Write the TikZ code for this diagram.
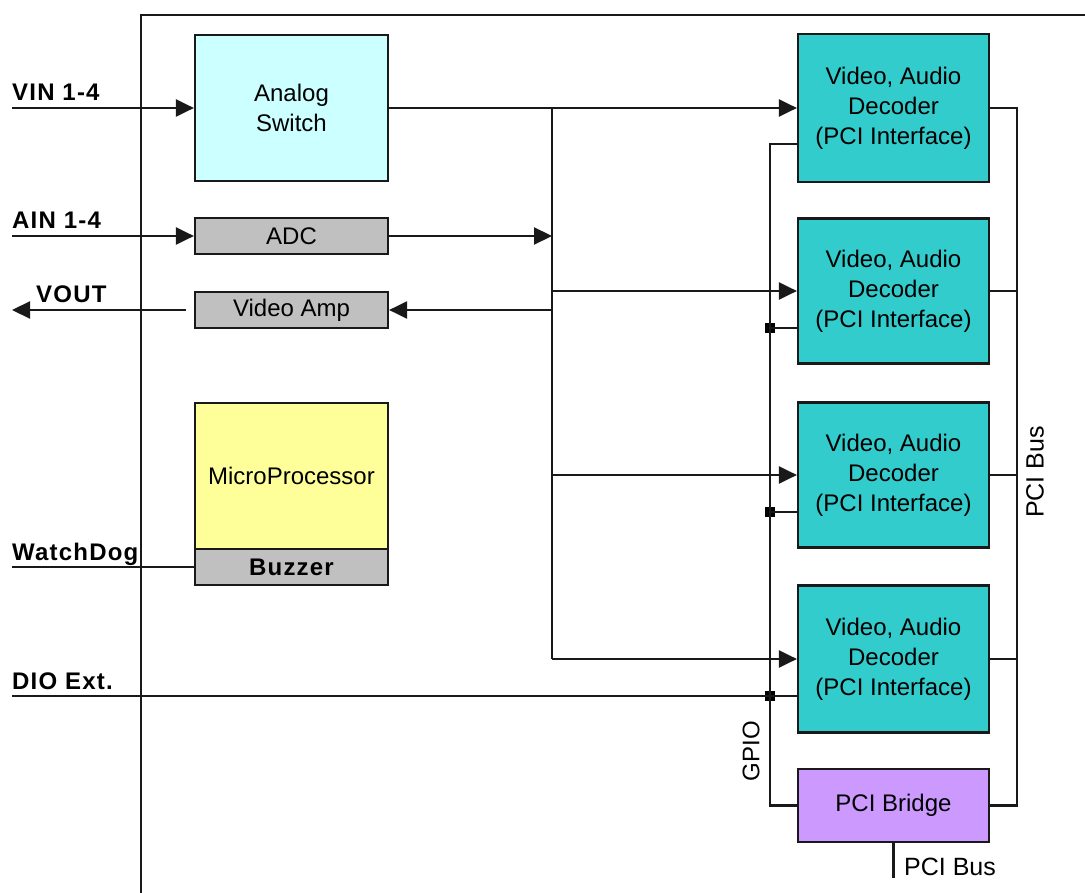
\documentclass[tikz,border=0pt]{standalone}
\usepackage{fontspec}
\setmainfont{Liberation Sans}
\newfontfamily\lblfont[LetterSpace=5]{Liberation Sans}
\usetikzlibrary{arrows.meta,calc}
\definecolor{swcyan}{HTML}{CCFFFF}
\definecolor{boxgray}{HTML}{C0C0C0}
\definecolor{mcuyel}{HTML}{FFFF99}
\definecolor{deccyan}{HTML}{33CCCC}
\definecolor{brpurple}{HTML}{CC99FF}
\tikzset{
  wire/.style={line width=2.2pt, draw=black!90},
  arr/.style={wire, -{Triangle[length=18pt,width=17pt]}},
  blk/.style={draw=black!90, line width=2.2pt, rectangle, inner sep=0pt, align=center,
    font=\fontsize{24}{30}\selectfont, minimum width=193pt},
  decbox/.style={blk, fill=deccyan, minimum width=191pt},
  lbl/.style={font=\lblfont\bfseries\fontsize{24}{28}\selectfont, inner sep=0pt, anchor=base west},
  dot/.style={fill=black, rectangle, minimum size=10pt, inner sep=0pt},
}
\begin{document}
\begin{tikzpicture}[x=1pt,y=-1pt]
\useasboundingbox[fill=white] (0,0) rectangle (1085,893);
% frame
\draw[wire] (141,893) -- (141,15) -- (1085,15);

% left blocks
\node[blk, fill=swcyan, minimum height=146pt] (asw) at (291.5,108) {Analog\\Switch};
\node[blk, fill=boxgray, minimum height=36pt] (adc) at (291.5,236) {ADC};
\node[blk, fill=boxgray, minimum height=36pt] (amp) at (291.5,310) {Video Amp};
\node[blk, fill=mcuyel, minimum height=146pt] (mcu) at (291.5,476) {MicroProcessor};
\node[blk, fill=boxgray, minimum height=36pt, font=\lblfont\bfseries\fontsize{24}{28}\selectfont] (buz) at (291.5,567) {Buzzer};

% decoders
\node[decbox, minimum height=148pt] (dec1) at (893.5,108) {Video, Audio\\Decoder\\(PCI Interface)};
\node[decbox, minimum height=145pt] (dec2) at (893.5,291) {Video, Audio\\Decoder\\(PCI Interface)};
\node[decbox, minimum height=145pt] (dec3) at (893.5,475) {Video, Audio\\Decoder\\(PCI Interface)};
\node[decbox, minimum height=147pt] (dec4) at (893.5,659) {Video, Audio\\Decoder\\(PCI Interface)};
\node[blk, fill=brpurple, minimum width=191pt, minimum height=73pt] (br) at (893.5,805.5) {PCI Bridge};

% external signal ends
\coordinate (vin) at (12,108);
\coordinate (ain) at (12,236);
\coordinate (vout) at (12,310);
\coordinate (voutS) at (186,310);
\coordinate (wd) at (12,567);
\coordinate (dio) at (12,696);
\coordinate (busTop) at (552,108);
\coordinate (busBot) at (552,659);
\coordinate (gpioX) at (770,0);
\coordinate (pciX) at (1017,0);
\coordinate (pciEnd) at (893.5,878);

% labels
\node[lbl] (tvin) at (12,101) {VIN 1-4};
\node[lbl] (tain) at (12,229) {AIN 1-4};
\node[lbl] (tvout) at (36,303) {VOUT};
\node[lbl] (twd) at (12,560) {WatchDog};
\node[lbl] (tdio) at (12,689) {DIO Ext.};

% inputs
\draw[arr] (vin) -- (asw.west);
\draw[arr] (ain) -- (adc.west);
\draw[arr] (voutS) -- (vout);
\draw[wire] (wd) -- (buz.west);

% video bus
\draw[wire] (busTop) -- (busBot);
\draw[arr] (asw.east) -- (dec1.west);
\draw[arr] (busTop |- dec2.west) -- (dec2.west);
\draw[arr] (busTop |- dec3.west) -- (dec3.west);
\draw[arr] (busTop |- dec4.west) -- (dec4.west);
\draw[arr] (adc.east) -- (adc.east -| busTop);
\draw[arr] (amp.east -| busTop) -- (amp.east);

% GPIO
\coordinate (g1) at ($(dec1.west)+(0,36)$);
\node[dot] (d2) at ($(dec2.west -| gpioX)+(0,37)$) {};
\node[dot] (d3) at ($(dec3.west -| gpioX)+(0,37)$) {};
\node[dot] (d4) at ($(dec4.west -| gpioX)+(0,37)$) {};
\draw[wire] (g1) -- (g1 -| gpioX) -- (br.west -| gpioX) -- (br.west);
\draw[wire] (d2.center) -- (d2.center -| dec2.west);
\draw[wire] (d3.center) -- (d3.center -| dec3.west);
\draw[wire] (dio) -- (d4.center) -- (d4.center -| dec4.west);
\node[font=\fontsize{24}{28}\selectfont, rotate=90, inner sep=0pt] (tgpio) at (751,751) {GPIO};

% PCI bus
\draw[wire] (dec1.east) -- (dec1.east -| pciX) -- (br.east -| pciX) -- (br.east);
\draw[wire] (dec2.east) -- (dec2.east -| pciX);
\draw[wire] (dec3.east) -- (dec3.east -| pciX);
\draw[wire] (dec4.east) -- (dec4.east -| pciX);
\node[font=\fontsize{25}{28}\selectfont, rotate=90, inner sep=0pt] (tpci) at (1035,472) {PCI Bus};
\draw[wire] (br.south) -- (pciEnd);
\node[font=\fontsize{25}{28}\selectfont, anchor=base west, inner sep=0pt] (tpci2) at (904,875) {PCI Bus};
\end{tikzpicture}
\end{document}
